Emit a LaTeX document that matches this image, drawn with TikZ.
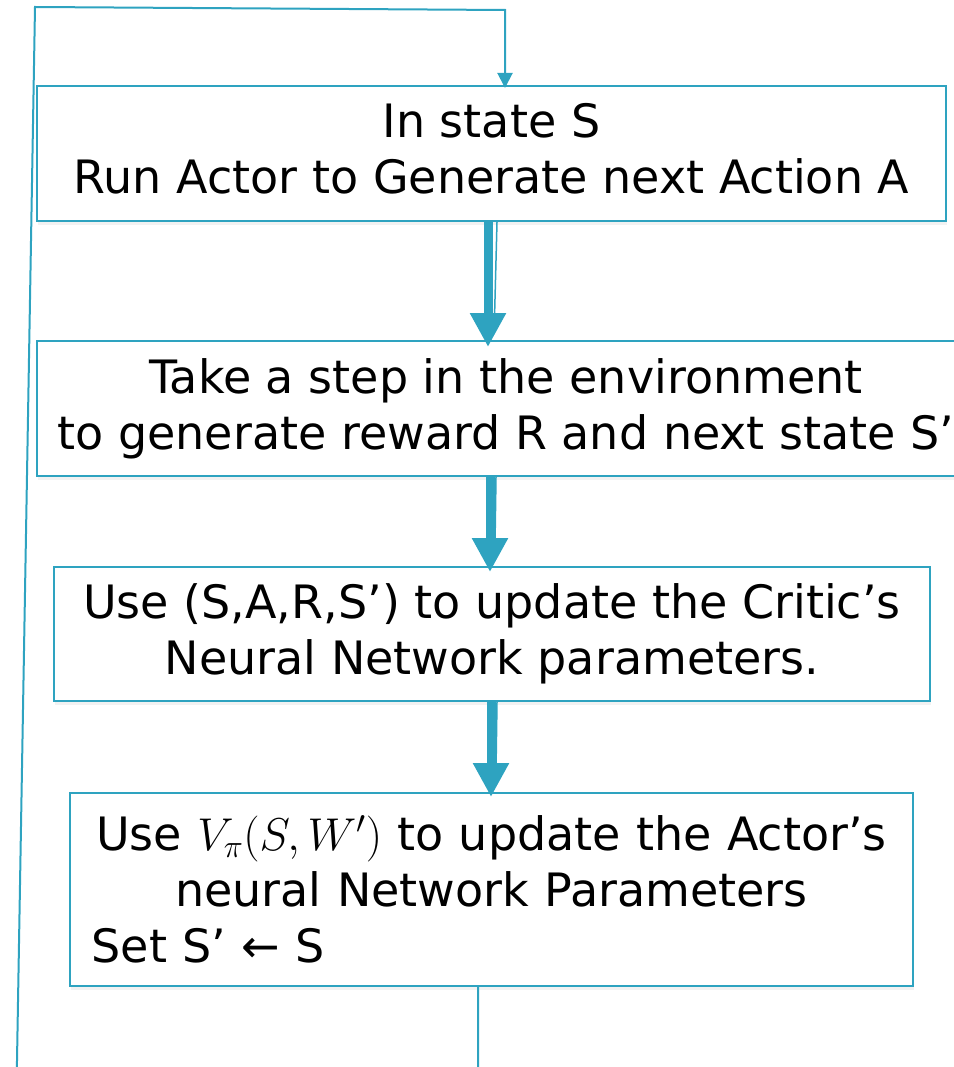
\RequirePackage{fix-cm}
\documentclass[tikz,border=0pt]{standalone}
\usepackage{fontspec}
\setmainfont{DejaVu Sans}
\usetikzlibrary{arrows.meta,shadows}
\definecolor{flow}{RGB}{46,163,192}

\begin{document}
\begin{tikzpicture}[x=1pt,y=-1pt,
  stepbox/.style={draw=flow, line width=2pt, fill=white, inner sep=0pt,
    align=center, font=\fontsize{46}{56}\selectfont,
    drop shadow={opacity=0.10, shadow xshift=1pt, shadow yshift=-4pt}},
  bigarrow/.style={flow, line width=9pt, -{Triangle[width=34pt,length=34pt]}},
  sideline/.style={flow, line width=1.5pt},
  loopline/.style={flow, line width=2pt, line join=miter}]
\useasboundingbox (0,0) rectangle (953,1067);

% the four steps of one iteration
\node[stepbox, minimum width=909pt, minimum height=135pt] (b1) at (491.5,153.5)
  {In state S\\Run Actor to Generate next Action A\vphantom{g}};
\node[stepbox, minimum width=938pt, minimum height=135pt] (b2) at (506,408.5)
  {Take a step in the environment\\to generate reward R and next state S’};
\node[stepbox, minimum width=876pt, minimum height=134pt] (b3) at (492,634)
  {Use (S,A,R,S’) to update the Critic’s\\Neural Network parameters.};
\node[stepbox, minimum width=843pt, minimum height=193pt, text width=800pt] (b4) at (491.5,889.5)
  {Use \(V_\pi(S,W')\) to update the Actor’s\\neural Network Parameters\\
   \makebox[800pt][l]{Set S’ ← S}};

% step-to-step arrows
\draw[sideline] ([xshift=5.5pt]b1.south) -- ([xshift=3pt,yshift=22pt]b1.south |- b2.north);
\draw[bigarrow] ([xshift=-3.5pt]b1.south) -- ([xshift=-3.5pt,yshift=-7pt]b1.south |- b2.north);

\draw[sideline] ([xshift=4pt]b3.north |- b2.south) -- ([xshift=3pt,yshift=22pt]b3.north);
\draw[bigarrow] ([xshift=-2pt]b3.north |- b2.south) -- ([xshift=-2pt,yshift=-6pt]b3.north);

\draw[sideline] ([xshift=5pt]b3.south) -- ([xshift=4pt,yshift=22pt]b3.south |- b4.north);
\draw[bigarrow] ([xshift=-1pt]b3.south) -- ([xshift=-1pt,yshift=-5pt]b3.south |- b4.north);

% feedback loop back to the first step
\coordinate (lb) at (16.5,1090);
\coordinate (lt) at (35,7);
\coordinate (rt) at (505,10);
\draw[loopline, -{Triangle[width=15pt,length=15pt]}]
  ([xshift=-13.5pt]b4.south) |- (lb) -- (lt) -- (rt) -- ([xshift=13.5pt,yshift=-3pt]b1.north);
\end{tikzpicture}
\end{document}
